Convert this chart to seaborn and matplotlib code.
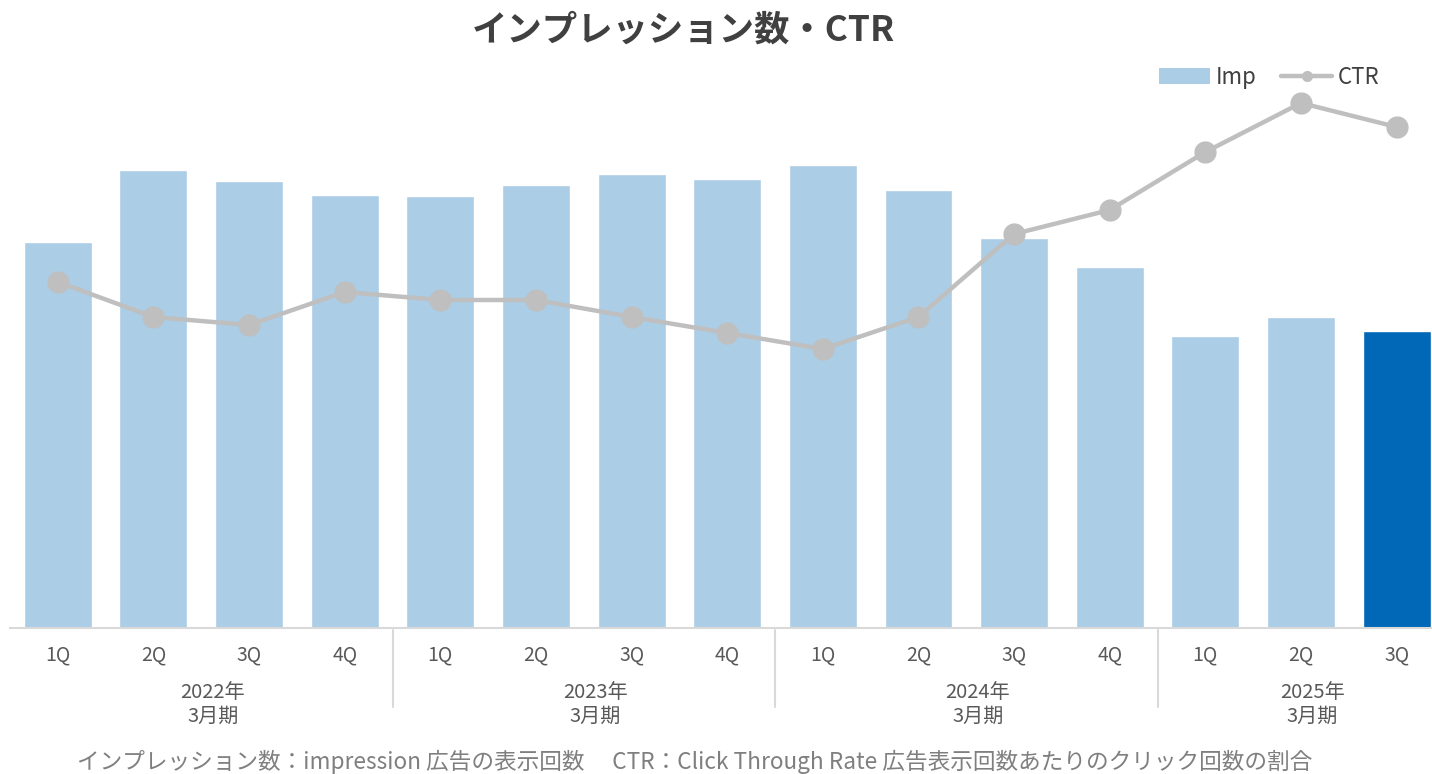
import matplotlib
matplotlib.use("Agg")
import matplotlib.pyplot as plt
from matplotlib.patches import Patch
from matplotlib.lines import Line2D
import numpy as np
import pandas as pd
import seaborn as sns

sns.set_style("white")
plt.rcParams['font.family'] = ['Noto Sans CJK JP', 'DejaVu Sans']

# Data (relative heights, no axis scale shown)
years = ["2022年\n3月期", "2023年\n3月期", "2024年\n3月期", "2025年\n3月期"]
quarters = ["1Q", "2Q", "3Q", "4Q", "1Q", "2Q", "3Q", "4Q",
            "1Q", "2Q", "3Q", "4Q", "1Q", "2Q", "3Q"]
imp = [386, 458, 447, 433, 432, 443, 454, 449, 463, 438, 390, 361, 292, 311, 297]
ctr = [346, 311, 303, 336, 328, 328, 311, 295, 279, 311, 394, 418, 476, 525, 501]

light = "#ABCDE6"
dark = "#0068B7"
grey_line = "#BFBFBF"
text_col = "#595959"

df = pd.DataFrame({
    'period': [str(i) for i in range(len(imp))],
    'imp': imp,
    'ctr': ctr,
    'kind': ['past'] * (len(imp) - 1) + ['latest'],
})

fig = plt.figure(figsize=(14.32, 7.74), dpi=100)
ax = fig.add_axes([10 / 1432, (774 - 628) / 774, (1432 - 10) / 1432, (628 - 60) / 774])

sns.barplot(data=df, x='period', y='imp', hue='kind', palette={'past': light, 'latest': dark},
            width=0.71, dodge=False, legend=False, ax=ax, saturation=1)
ax.plot(np.arange(len(ctr)), df['ctr'], color=grey_line, lw=3.2, marker='o', ms=15,
        solid_capstyle='round', zorder=5)

ax.set_xlim(-0.5, 14.37)
ax.set_ylim(0, 568)
ax.set_xlabel("")
ax.set_ylabel("")
ax.set_yticks([])
ax.set_xticks(range(len(quarters)))
ax.set_xticklabels(quarters, fontsize=14, color=text_col)
ax.tick_params(axis='x', length=0, pad=12)
for side in ['top', 'right', 'left']:
    ax.spines[side].set_visible(False)
ax.spines['bottom'].set_color("#D9D9D9")
ax.spines['bottom'].set_linewidth(1.5)

# group labels and separators
trans = ax.get_xaxis_transform()
for g, label in enumerate(years):
    start = g * 4
    end = min(start + 3, len(quarters) - 1)
    ax.text((start + end) / 2 + 0.12, -0.135, label, transform=trans, ha='center', va='center',
            fontsize=14.5, color=text_col, linespacing=1.2)
for sep in [3.5, 7.5, 11.5]:
    ax.plot([sep, sep], [-0.004, -0.139], transform=trans, color="#D9D9D9", lw=1.5, clip_on=False)

# legend
handles = [Patch(facecolor=light, edgecolor='none'),
           Line2D([0], [0], color=grey_line, lw=3.2, marker='o', ms=7)]
ax.legend(handles, ["Imp", "CTR"], loc='center right', bbox_to_anchor=(0.963, 0.97), ncol=2,
          frameon=False, fontsize=16, handlelength=2.3, handletextpad=0.25, columnspacing=1.1,
          borderaxespad=0, borderpad=0, labelcolor="#404040")

fig.text(0.477, 0.961, "インプレッション数・CTR", ha='center', va='center', fontsize=25.5,
         fontweight='bold', color="#404040")
fig.text(0.485, 0.016, "インプレッション数：impression 広告の表示回数　 CTR：Click Through Rate 広告表示回数あたりのクリック回数の割合",
         ha='center', va='center', fontsize=16.3, color="#7F7F7F")

fig.savefig("out.png", dpi=100)
